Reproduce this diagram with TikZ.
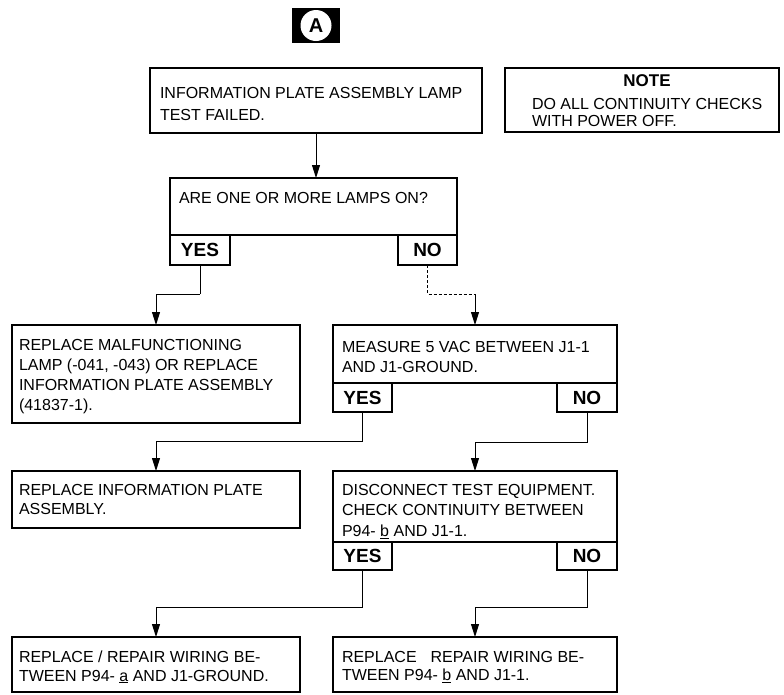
\documentclass[tikz,border=0pt]{standalone}
\usepackage{fontspec}
\setmainfont{Liberation Sans}
\usetikzlibrary{arrows.meta}
\begin{document}
\begin{tikzpicture}[x=1pt,y=-1pt,
  box/.style={draw, line width=1.3pt, inner sep=0pt, outer sep=0pt},
  txt/.style={anchor=north west, inner sep=0pt, outer sep=0pt, align=left, font=\fontsize{16}{20}\selectfont},
  yn/.style={box, font=\fontsize{19}{19}\selectfont\bfseries},
  conn/.style={line width=0.9pt},
  arr/.style={conn, -{Triangle[length=13pt,width=8pt]}},
  dconn/.style={line width=0.7pt, dash pattern=on 3pt off 2pt}]
\useasboundingbox (0,0) rectangle (784,694);

% A marker
\node[fill=black, minimum width=48pt, minimum height=35pt, inner sep=0pt] (abox) at (316,25.5) {};
\node[circle, fill=white, minimum size=31pt, inner sep=0pt, font=\fontsize{20}{20}\selectfont\bfseries] (acirc) at (abox.center) {A};

% top box
\node[box, line width=2.6pt, minimum width=332pt, minimum height=65pt] (top) at (316,100.5) {};
\node[txt, font=\fontsize{16}{22}\selectfont] (toptxt) at (160,87) {INFORMATION PLATE ASSEMBLY LAMP\\TEST FAILED.};

% note
\node[box, line width=1.2pt, minimum width=274pt, minimum height=64pt] (note) at (642,100) {};
\node[inner sep=0pt, font=\fontsize{17}{17}\selectfont\bfseries] (notehead) at (647,81) {NOTE};
\node[txt, font=\fontsize{16}{17.5}\selectfont] (notetxt) at (532,98) {DO ALL CONTINUITY CHECKS\\WITH POWER OFF.};

% question
\node[box, minimum width=287pt, minimum height=57pt] (q) at (313.5,206.5) {};
\node[txt] (qtxt) at (179,192) {ARE ONE OR MORE LAMPS ON?};
\node[yn, minimum width=60pt, minimum height=30pt] (qy) at (200,250) {YES};
\node[yn, minimum width=59pt, minimum height=30pt] (qn) at (427.5,250) {NO};

% left 1
\node[box, minimum width=288pt, minimum height=98pt] (l1) at (156,374) {};
\node[txt] (l1txt) at (19,339) {REPLACE MALFUNCTIONING\\LAMP (-041, -043) OR REPLACE\\INFORMATION PLATE ASSEMBLY\\(41837-1).};

% measure
\node[box, minimum width=284pt, minimum height=58pt] (m) at (475,354) {};
\node[txt] (mtxt) at (342,341) {MEASURE 5 VAC BETWEEN J1-1\\AND J1-GROUND.};
\node[yn, minimum width=59pt, minimum height=29pt] (my) at (362.5,397.5) {YES};
\node[yn, minimum width=60pt, minimum height=29pt] (mn) at (587,397.5) {NO};

% left 2
\node[box, minimum width=288pt, minimum height=57pt] (l2) at (156,499.5) {};
\node[txt, font=\fontsize{16}{19}\selectfont] (l2txt) at (19,484) {REPLACE INFORMATION PLATE\\ASSEMBLY.};

% disconnect
\node[box, minimum width=284pt, minimum height=71pt] (d) at (475,506.5) {};
\node[txt, font=\fontsize{16}{20.5}\selectfont] (dtxt) at (342,484) {DISCONNECT TEST EQUIPMENT.\\CHECK CONTINUITY BETWEEN\\P94- \underline{b} AND J1-1.};
\node[yn, minimum width=59pt, minimum height=28pt] (dy) at (362.5,556) {YES};
\node[yn, minimum width=60pt, minimum height=28pt] (dn) at (587,556) {NO};

% bottom boxes
\node[box, minimum width=288pt, minimum height=55pt] (bl) at (156,664.5) {};
\node[txt, font=\fontsize{16}{18.5}\selectfont] (bltxt) at (19,651) {REPLACE / REPAIR WIRING BE-\\TWEEN P94- \underline{a} AND J1-GROUND.};
\node[box, minimum width=284pt, minimum height=55pt] (br) at (475,664.5) {};
\node[txt, font=\fontsize{16}{18.5}\selectfont] (brtxt) at (342,651) {REPLACE\hspace{14pt}REPAIR WIRING BE-\\TWEEN P94- \underline{b} AND J1-1.};

% connectors
\draw[arr] (top.south) -- (top.south |- q.north);
\draw[conn] (qy.south) -- ++(0,29) coordinate (j1);
\draw[arr] (j1) -| (l1.north);
\draw[dconn] (qn.south) -- ++(0,29) coordinate (j2) -- (j2 -| m.north);
\draw[arr] (j2 -| m.north) -- (m.north);
\draw[arr] (my.south) -- ++(0,29) -| (l2.north);
\draw[arr] (mn.south) -- ++(0,30) -| (d.north);
\draw[arr] (dy.south) -- ++(0,37) -| (bl.north);
\draw[arr] (dn.south) -- ++(0,37) -| (br.north);
\end{tikzpicture}
\end{document}
